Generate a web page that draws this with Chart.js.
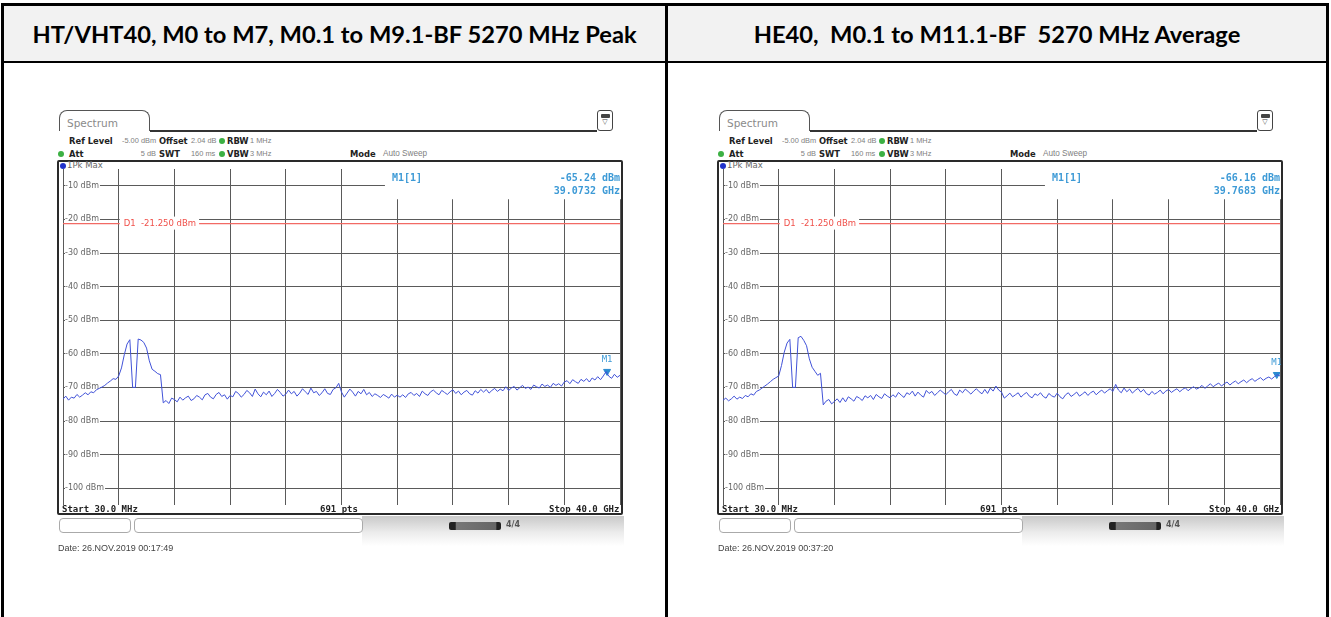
<!DOCTYPE html>
<html>
<head>
<meta charset="utf-8">
<script src="https://cdn.jsdelivr.net/npm/chart.js@4.4.0/dist/chart.umd.min.js"></script>
<style>
  body { margin: 0; width: 1331px; height: 617px; overflow: hidden; position: relative; background: #fff; font-family: "DejaVu Sans", sans-serif; }
  .a { position: absolute; white-space: nowrap; }
  .hdr { top: 6px; height: 55px; background: #f2f2f2; }
  .hdr span { position: absolute; left: 0; right: 0; top: 0; bottom: 0; display: flex; align-items: center; justify-content: center;
              font-family: Lato, "Open Sans", sans-serif; font-weight: bold; font-size: 24px; color: #000; }
  .lb { font-size: 8.4px; line-height: 10px; color: #222; font-weight: bold; }
  .lv { font-family: "Liberation Sans", Arial, sans-serif; font-size: 7.4px; line-height: 10px; color: #808080; }
  .dot { width: 6px; height: 6px; border-radius: 50%; }
  .mono { font-family: "DejaVu Sans Mono", monospace; font-weight: bold; font-size: 9px; color: #222; line-height: 10px; }
  .date { font-family: "Liberation Sans", Arial, sans-serif; font-size: 9px; color: #444; }
</style>
</head>
<body>
<div class="a" style="left:2px;top:3px;width:1327px;height:3px;background:#000"></div>
<div class="a hdr" style="left:4px;width:661px"><span id="h1">HT/VHT40, M0 to M7, M0.1 to M9.1-BF 5270 MHz Peak</span></div>
<div class="a hdr" style="left:668px;width:658px"><span id="h2">HE40,&nbsp; M0.1 to M11.1-BF&nbsp; 5270 MHz Average</span></div>
<div class="a" style="left:2px;top:61px;width:1327px;height:2px;background:#000"></div>
<div class="a" style="left:1px;top:3px;width:3px;height:614px;background:#000"></div>
<div class="a" style="left:665px;top:3px;width:3px;height:614px;background:#000"></div>
<div class="a" style="left:1326px;top:3px;width:3px;height:614px;background:#000"></div>

<script>
// sweep settings (GHz)
const sweepStartGHz = 0.03;
const sweepStopGHz = 40.0;
const yTickValues = [-10, -20, -30, -40, -50, -60, -70, -80, -90, -100];
const refLevel = -5;
const bottomLevel = -105;
const d1Level = -21.25;

// HT/VHT40 peak trace (dBm)
const peakTrace = [
  -73.5,-72.6,-73.8,-72.9,-73.2,-72.1,-72.9,-72.3,-71.6,-72.2,-71.3,-71.6,-70.7,-70.3,
  -69.9,-69.4,-68.7,-68.1,-67.4,-67.6,
  -66.6,-64.2,-60.3,-57.1,-55.8,
  -70,-70,
  -55.6,-55.9,-56.6,-58.3,-62.1,-64.6,-65.2,-65.9,-66.2,
  -74.6,-73.9,-74.8,-73.2,-73.6,-74.3,-72.9,-73.8,-73.1,-72.6,-73.9,-73.4,-72.4,-72.9,-73.7,-72.2,-71.8,-72.9,-73.4,-72.1,-71.5,-72.7,-72.2,-73.5,-72.4,
  -72.8,-71.2,-71.8,-72.9,-72.1,-70.9,-71.6,-72.7,-70.5,-71.9,-72.8,-71.4,-72.2,-71.1,-72.7,-71.8,-70.6,-71.5,-72.6,-72,-70.8,-71.9,-71.2,-72.6,-71.7,-70.4,-71.3,-72.1,-70.2,-71.6,
  -71.2,-72.4,-71.6,-70.4,-71.8,-72.1,-70.6,-70.1,-68.8,-71.4,-72.9,-71.7,-70.5,-71.4,-72.6,-71.2,-71.9,-70.6,-72.2,-71.5,-72.7,-71.9,-72.4,-73,-72.1,-72.6,-73.2,-72,-72.9,-72.3,
  -72.9,-72.2,-73,-71.9,-71.5,-72.4,-71.8,-72.7,-71.1,-71.9,-72.4,-71.3,-70.8,-71.6,-72.2,-70.9,-71.5,-72.1,-71.3,-70.7,-71.8,-71.1,-72.2,-71.4,-70.9,-71.9,-72.3,-71,-71.7,-70.6,
  -71.4,-70.6,-71.7,-70.9,-70.3,-71.2,-70.5,-71,-69.8,-70.9,-70.2,-69.7,-70.8,-70.1,-69.4,-70.3,-69.9,-70.6,-69.3,-69.8,-70.2,-69,-69.7,-69.3,-70,-68.8,-69.4,-68.9,-69.6,-68.4,
  -68,-68.9,-67.7,-68.3,-68.8,-67.6,-68.2,-67.4,-68.4,-67.2,-67.8,-66.8,-67.7,-66.6,-65.3,-66.7,-67.3,-66.1,-67,-66.4
];

// HE40 average trace (dBm)
const avgTrace = [
  -73.8,-73.2,-74,-73.4,-72.6,-73.5,-72.9,-73.3,-72.4,-72.8,-71.9,-72.3,-71.2,-70.8,
  -70.2,-69.6,-69,-68.3,-67.6,-67.1,
  -66.6,-63.5,-59.5,-56.8,-55.7,
  -70,-70,
  -55.2,-54.8,-56,-57.6,-61.5,-64,-65.2,-66.4,-65.8,
  -75.2,-74.1,-73.6,-74.9,-74.2,-73.4,-74.5,-73.1,-74.3,-72.8,-73.4,-74.1,-72.7,-73.2,-73.9,-72.5,-73.1,-72.4,-73.6,-72.1,-72.8,-73.3,-71.9,-72.6,-73.1,
  -72.2,-72.9,-71.5,-72.3,-73,-71.6,-72.1,-71.1,-72.6,-71.4,-72.3,-72.9,-70.9,-71.8,-71.2,-72.4,-71.6,-70.8,-71.5,-72.2,
  -71.3,-70.6,-71.9,-72.4,-70.8,-71.6,-70.5,-71.2,-72,-71.1,-70.4,-71.3,-71.9,-70.6,-71.8,-70.2,-71.1,-69.6,-70.8,-71.4,
  -73.2,-72.5,-71.7,-72.8,-72.2,-71.6,-72.9,-72.1,-71.5,-72.6,-73.1,-71.9,-72.4,-71.6,-72.7,-73.2,-71.8,-72.5,-72.9,-71.7,
  -72.8,-73.4,-72.2,-71.6,-72.7,-72.1,-71.4,-72.6,-72,-71.3,-72.4,-71.6,-71.1,-72.2,-71.4,-70.8,-71.7,-71,-70.4,-71.2,
  -69.1,-70.8,-71.6,-70.2,-71.3,-70.5,-71.7,-70.9,-70.3,-71.4,-70.6,-71.8,-72.3,-71.2,-72,-71.5,-70.8,-71.9,-71.1,-70.6,-71.5,-70.9,-70.4,-71.3,-70.6,-70.1,-71,-70.3,-69.8,-70.5,
  -70.1,-69.4,-70.3,-69.6,-68.9,-69.8,-69.2,-68.7,-69.6,-68.9,-68.4,-69.3,-68.6,-68.1,-68.9,-68.3,-67.8,-68.6,-67.9,-67.4,-68.2,-67.6,-67.1,-67.9,-67.3,-66.9,-67.5,-66.8,-66.2,-66.6
];

// M1 marker readouts
const markerFreqGHz = [39.0732, 39.7683];
const markerLevelDbm = [-65.24, -66.16];
const panelDates = ['Date: 26.NOV.2019  00:17:49', 'Date: 26.NOV.2019  00:37:20'];

const xDivisions = [];
for (let k = 0; k <= 10; k++) xDivisions.push(sweepStartGHz + k * (sweepStopGHz - sweepStartGHz) / 10);

function tracePoints(levels) {
  const n = levels.length;
  return levels.map((v, i) => ({ x: sweepStartGHz + i * (sweepStopGHz - sweepStartGHz) / (n - 1), y: v }));
}

function el(html, style, cls) {
  const d = document.createElement('div');
  d.className = 'a' + (cls ? ' ' + cls : '');
  d.setAttribute('style', style);
  d.innerHTML = html;
  document.body.appendChild(d);
  return d;
}

// fit the table headings to the width they have in the picture
(function fitHeadings() {
  const h1 = document.getElementById('h1'), h2 = document.getElementById('h2');
  const c = document.createElement('canvas').getContext('2d');
  c.font = 'bold 24px Lato';
  const w = c.measureText(h1.textContent).width;
  const size = 24 * 605 / w;
  h1.style.fontSize = size + 'px';
  h2.style.fontSize = size + 'px';
})();

// annotations inside the diagram: display line label, marker info, marker label
const spectrumOverlay = {
  id: 'spectrumOverlay',
  afterDatasetsDraw(chart, args, opts) {
    const { ctx, chartArea: a, scales: { x, y } } = chart;
    ctx.save();
    // D1 label
    const yd = y.getPixelForValue(opts.d1Level);
    ctx.font = '8.5px "DejaVu Sans"';
    ctx.textBaseline = 'middle';
    const tx = x.getPixelForValue(xDivisions[1]) + 5;
    const txt = 'D1  -21.250 dBm';
    const tw = ctx.measureText(txt).width;
    ctx.fillStyle = '#fff';
    ctx.fillRect(tx - 4, yd - 7, tw + 7, 13);
    ctx.fillStyle = '#f0504a';
    ctx.fillText(txt, tx, yd);
    // marker info box
    const bx = a.left + a.width * 0.578;
    const by = y.getPixelForValue(-14);
    ctx.fillStyle = '#fff';
    ctx.fillRect(bx, a.top - 1, a.right - bx + 2, by - a.top + 1);
    ctx.fillStyle = '#3d9ad6';
    ctx.font = 'bold 10px "DejaVu Sans Mono"';
    ctx.textAlign = 'left';
    ctx.fillText('M1[1]', bx + 7, a.top + 9);
    ctx.textAlign = 'right';
    ctx.fillText(opts.level, a.right, a.top + 9);
    ctx.fillText(opts.freq, a.right, a.top + 22);
    // M1 label above the marker
    const mx = x.getPixelForValue(opts.mf), my = y.getPixelForValue(opts.ml);
    ctx.font = '9px "DejaVu Sans Mono"';
    ctx.textAlign = 'center';
    ctx.fillText('M1', mx, my - 12);
    ctx.restore();
  }
};

function buildPanel(ox, idx, trace) {
  // tab + header rows
  el('Spectrum', `left:${ox+59}px;top:110px;width:91px;height:21px;border:1.5px solid #555;border-bottom:none;border-radius:8px 8px 0 0;font-size:10.5px;color:#8a8a8a;line-height:24px;padding-left:7px;box-sizing:border-box;background:#fff`);
  el('', `left:${ox+150}px;top:130px;width:447px;height:2px;background:#333`);
  el('<div style="margin:3px auto 0;width:9px;height:4px;background:#444;border-radius:1px"></div><div style="font-size:7px;line-height:8px;text-align:center;color:#444">&#9661;</div>',
     `left:${ox+597}px;top:110px;width:16px;height:21px;border:1.5px solid #444;border-radius:3px;box-sizing:border-box;background:#fff`);

  el('Ref Level', `left:${ox+69}px;top:136px`, 'lb');
  el('-5.00 dBm', `left:${ox+122}px;top:136px`, 'lv');
  el('Offset', `left:${ox+159}px;top:136px`, 'lb');
  el('2.04 dB', `left:${ox+191}px;top:136px`, 'lv');
  el('', `left:${ox+219}px;top:138px;background:#3cb043`, 'dot');
  el('RBW', `left:${ox+227}px;top:136px`, 'lb');
  el('1 MHz', `left:${ox+250}px;top:136px`, 'lv');

  el('', `left:${ox+58}px;top:151px;background:#3cb043`, 'dot');
  el('Att', `left:${ox+69}px;top:149px`, 'lb');
  el('5 dB', `left:${ox+131}px;top:149px;width:25px;text-align:right`, 'lv');
  el('SWT', `left:${ox+159}px;top:149px`, 'lb');
  el('160 ms', `left:${ox+191}px;top:149px`, 'lv');
  el('', `left:${ox+219}px;top:151px;background:#3cb043`, 'dot');
  el('VBW', `left:${ox+227}px;top:149px`, 'lb');
  el('3 MHz', `left:${ox+250}px;top:149px`, 'lv');
  el('Mode', `left:${ox+350}px;top:149px`, 'lb');
  el('Auto Sweep', `left:${ox+383}px;top:149px;font-size:8.2px`, 'lv');

  // diagram frame
  el('', `left:${ox+57}px;top:160px;width:566px;height:355px;border:2px solid #2a2a2a;box-sizing:border-box;border-radius:2px`);
  el('', `left:${ox+60}px;top:163px;background:#2233cc`, 'dot');
  el('1Pk Max', `left:${ox+67}px;top:161px;line-height:9px;font-size:8.5px;color:#666`, '');

  const cv = document.createElement('canvas');
  cv.width = 559; cv.height = 336;
  cv.style.cssText = `position:absolute;left:${ox+62}px;top:169px;width:559px;height:336px`;
  document.body.appendChild(cv);

  new Chart(cv.getContext('2d'), {
    type: 'line',
    data: {
      datasets: [
        { data: tracePoints(trace), borderColor: '#4152d8', borderWidth: 1, pointRadius: 0, tension: 0 },
        { data: [{ x: sweepStartGHz, y: d1Level }, { x: sweepStopGHz, y: d1Level }], borderColor: '#f26a64', borderWidth: 1.2, pointRadius: 0 },
        { data: [{ x: markerFreqGHz[idx], y: markerLevelDbm[idx] }], showLine: false, pointStyle: 'triangle', rotation: 180,
          pointRadius: 4, backgroundColor: '#2a8bd0', borderColor: '#2a8bd0' }
      ]
    },
    options: {
      responsive: false,
      animation: false,
      layout: { autoPadding: false, padding: { left: 1, right: 1, top: 0, bottom: 0 } },
      plugins: {
        legend: { display: false },
        tooltip: { enabled: false },
        spectrumOverlay: {
          d1Level: d1Level,
          level: markerLevelDbm[idx].toFixed(2) + ' dBm',
          freq: markerFreqGHz[idx].toFixed(4) + ' GHz',
          mf: markerFreqGHz[idx],
          ml: markerLevelDbm[idx]
        }
      },
      scales: {
        x: {
          type: 'linear', min: sweepStartGHz, max: sweepStopGHz,
          ticks: { display: false },
          grid: { color: '#5a5a5a', lineWidth: 1, drawTicks: false },
          border: { display: false },
          afterBuildTicks: s => { s.ticks = xDivisions.map(v => ({ value: v })); },
          afterFit: s => { s.height = 0; s.paddingLeft = 0; s.paddingRight = 0; }
        },
        y: {
          min: bottomLevel, max: refLevel,
          ticks: {
            mirror: true, padding: 2, color: '#666',
            font: { size: 8, family: 'DejaVu Sans' },
            showLabelBackdrop: true, backdropColor: '#fff',
            backdropPadding: { top: 1, bottom: 1, left: 0, right: 1 },
            callback: v => v + ' dBm'
          },
          grid: { color: '#5a5a5a', lineWidth: 1, drawTicks: false },
          border: { display: false },
          afterBuildTicks: s => { s.ticks = yTickValues.map(v => ({ value: v })); },
          afterFit: s => { s.width = 0; s.paddingTop = 0; s.paddingBottom = 0; }
        }
      }
    },
    plugins: [spectrumOverlay]
  });

  // bottom row inside frame
  el('Start 30.0 MHz', `left:${ox+62}px;top:504px`, 'mono');
  el('691 pts', `left:${ox+320}px;top:504px`, 'mono');
  el('Stop 40.0 GHz', `left:${ox+549}px;top:504px;width:70px;text-align:right`, 'mono');

  // status bar
  el('', `left:${ox+362}px;top:516px;width:262px;height:30px;background:linear-gradient(to bottom,#c9c9c9 0%,#ececec 55%,#fff 100%)`);
  el('', `left:${ox+59}px;top:518px;width:72px;height:15px;border:1px solid #aaa;border-radius:4px;box-sizing:border-box;background:#fff`);
  el('', `left:${ox+134}px;top:518px;width:229px;height:15px;border:1px solid #aaa;border-radius:4px;box-sizing:border-box;background:#fff`);
  el('', `left:${ox+449}px;top:522px;width:52px;height:8px;border-radius:2px;background:linear-gradient(to right,#222 0%,#222 12%,#777 14%,#666 90%,#222 92%)`);
  el('4/4', `left:${ox+506}px;top:520px;font-size:8px;color:#555;font-weight:bold`, '');

  el(panelDates[idx], `left:${ox+58}px;top:543px`, 'date');
}

buildPanel(0, 0, peakTrace);
buildPanel(660, 1, avgTrace);
</script>
</body>
</html>
